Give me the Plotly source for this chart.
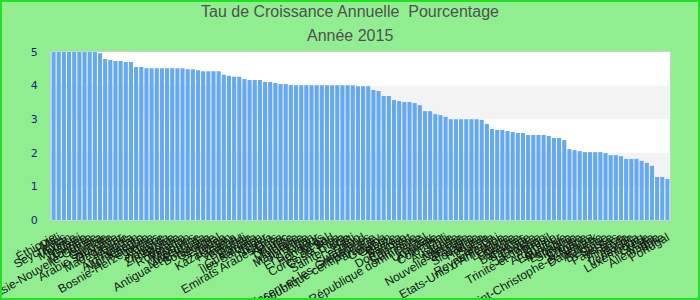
import plotly.graph_objects as go

pays = [
    "Éthiopie", "Mali", "Seychelles", "Taïwan", "Maurice",
    "Malawi", "Guinée", "Mongolie", "Papouasie-Nouvelle-Guinée", "Ghana",
    "Gambie", "Arabie saoudite", "Grenade", "Madagascar", "Albanie",
    "Angola", "Afghanistan", "Monténégro", "Namibie", "Bosnie-Herzégovine",
    "Palaos", "Algérie", "Ouganda", "Zimbabwe", "Bolivie",
    "Roumanie", "Pakistan", "Maldives", "Macédoine", "Antigua-et-Barbuda",
    "Botswana", "Géorgie", "Sénégal", "Tonga", "Kazakhstan",
    "Panama", "Vanuatu", "Burundi", "Égypte", "Guatemala",
    "Îles Salomon", "Niger", "Nigeria", "Emirats Arabes Unis", "Kenya",
    "Maroc", "Tunisie", "Moldavie", "Mauritanie", "Jordanie",
    "Liban", "El Salvador", "Honduras", "Népal", "Corée du Sud",
    "Costa Rica", "Cuba", "Sainte-Lucie", "Haïti", "Lesotho",
    "Swaziland", "Saint-Vincent-et-les-Grenadines", "République centrafricaine", "Paraguay", "Guyana",
    "Gabon", "Belize", "Samoa", "Dominique", "Cap-Vert",
    "Suriname", "République dominicaine", "Israël", "Uruguay", "Arménie",
    "Colombie", "Chili", "Australie", "Islande", "Norvège",
    "Nouvelle-Zélande", "Pologne", "Slovaquie", "Hongrie", "Suède",
    "Canada", "Royaume-Uni", "Etats-Unis d'Amérique", "Lettonie", "Lituanie",
    "Estonie", "Bahamas", "Barbade", "Chypre", "Jamaïque",
    "Trinité-et-Tobago", "Brésil", "Argentine", "Équateur", "Mexique",
    "Espagne", "Slovénie", "Croatie", "Bulgarie", "Saint-Christophe-et-Niévès",
    "Danemark", "Autriche", "Belgique", "Suisse", "Pays-Bas",
    "France", "Finlande", "Irlande", "Venezuela", "Luxembourg",
    "Grèce", "Malte", "Allemagne", "Italie", "Portugal",
]

taux = [
    5.0, 5.0, 5.0, 5.0, 5.0, 5.0, 5.0, 5.0, 5.0, 4.96,
    4.79, 4.76, 4.73, 4.73, 4.70, 4.70, 4.55, 4.55, 4.52, 4.52,
    4.52, 4.52, 4.52, 4.52, 4.52, 4.52, 4.49, 4.49, 4.46, 4.43,
    4.43, 4.43, 4.43, 4.32, 4.29, 4.26, 4.26, 4.20, 4.17, 4.17,
    4.17, 4.11, 4.11, 4.08, 4.05, 4.05, 4.02, 4.01, 4.01, 4.01,
    4.01, 4.01, 4.01, 4.01, 4.01, 4.01, 4.01, 4.01, 4.01, 3.98,
    3.98, 3.98, 3.87, 3.84, 3.69, 3.69, 3.57, 3.54, 3.51, 3.51,
    3.48, 3.42, 3.24, 3.24, 3.15, 3.12, 3.07, 3.0, 3.0, 3.0,
    3.0, 3.0, 3.0, 2.98, 2.86, 2.71, 2.68, 2.68, 2.65, 2.62,
    2.59, 2.59, 2.53, 2.53, 2.53, 2.53, 2.50, 2.44, 2.44, 2.38,
    2.11, 2.08, 2.05, 2.02, 2.02, 2.02, 2.02, 1.99, 1.93, 1.93,
    1.90, 1.82, 1.82, 1.82, 1.76, 1.70, 1.61, 1.28, 1.28, 1.22,
]

titre1 = "Tau de Croissance Annuelle  Pourcentage"
titre2 = "Année 2015"
y_ticks = [0, 1, 2, 3, 4, 5]

W, H = 700, 300
ML, MR, MT, MB = 51, 30, 52, 80
PW, PH = W - ML - MR, H - MT - MB
XC = (W / 2 - ML) / PW  # title centred on the page

fig = go.Figure()
fig.add_trace(go.Bar(x=pays, y=taux, marker=dict(color="#64a9f1", line=dict(width=0)),
                     hovertemplate="%{x}: %{y}<extra></extra>"))

shapes = []
for lo in (1, 3):
    shapes.append(dict(type="rect", xref="paper", yref="y", x0=0, x1=1, y0=lo, y1=lo + 1,
                       fillcolor="#f3f3f3", line=dict(width=0), layer="below"))
shapes.append(dict(type="rect", xref="paper", yref="paper",
                   x0=(-ML + 1) / PW, x1=(PW + MR - 1) / PW,
                   y0=(-MB + 1) / PH, y1=(PH + MT - 1) / PH,
                   line=dict(color="#22e022", width=2), fillcolor="rgba(0,0,0,0)", layer="above"))

fig.update_layout(
    width=W, height=H,
    margin=dict(l=ML, r=MR, t=MT, b=MB),
    paper_bgcolor="#90ee90", plot_bgcolor="#ffffff",
    showlegend=False, bargap=0.2,
    shapes=shapes,
    annotations=[
        dict(text=titre1, xref="paper", yref="paper", x=XC, y=1 + (MT - 12) / PH,
             xanchor="center", yanchor="middle", showarrow=False,
             font=dict(family="Liberation Sans, Arial", size=16, color="#505050")),
        dict(text=titre2, xref="paper", yref="paper", x=XC, y=1 + (MT - 35.5) / PH,
             xanchor="center", yanchor="middle", showarrow=False,
             font=dict(family="Liberation Sans, Arial", size=16, color="#505050")),
    ],
    xaxis=dict(type="category", tickmode="array", tickvals=pays, ticktext=pays,
               tickangle=-30, automargin=False, showgrid=False, ticklabelstandoff=5,
               tickfont=dict(family="Liberation Sans, Arial", size=12, color="#151515"),
               showline=True, linecolor="#d0d0d0", linewidth=1, mirror=True, ticks=""),
    yaxis=dict(range=[0, 5], tickmode="array", tickvals=y_ticks, automargin=False,
               showgrid=False, zeroline=False, ticklabelstandoff=10,
               tickfont=dict(family="DejaVu Sans, Verdana", size=11, color="#1e1e8c"),
               showline=True, linecolor="#d0d0d0", linewidth=1, mirror=True, ticks=""),
)

fig.write_html("out.html")
